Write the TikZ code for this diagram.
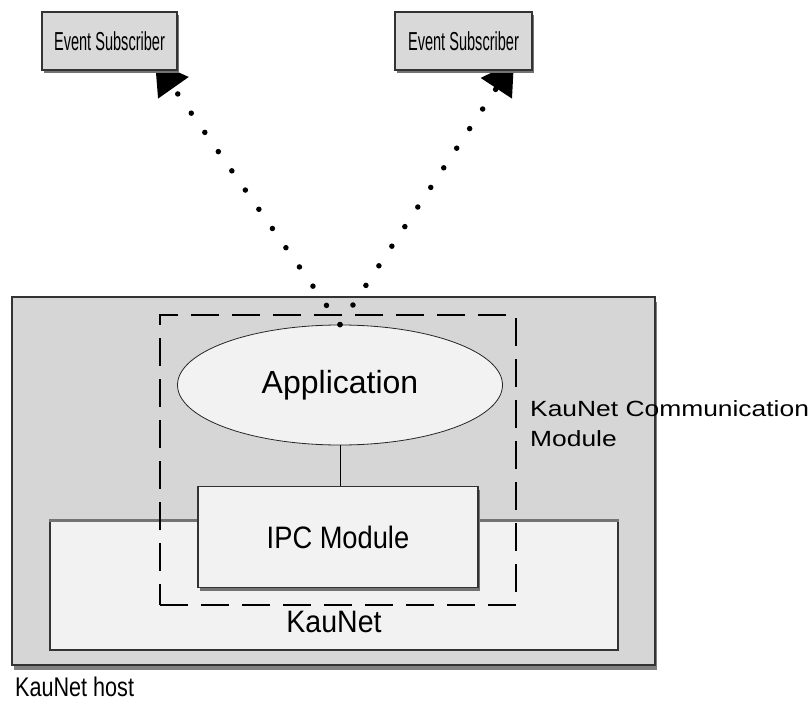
\documentclass[tikz,border=0pt]{standalone}
\usepackage{fontspec}
\setmainfont{Liberation Sans}
\usetikzlibrary{arrows.meta,shapes.geometric,shadows,calc}
\pgfdeclarelayer{front}
\pgfsetlayers{main,front}

\begin{document}
\begin{tikzpicture}[x=1pt, y=-1pt, >={Triangle[length=32pt, width=36pt]},
	box/.style={draw=black!80, line width=1.2pt, inner sep=0pt},
	shadebox/.style={box, drop shadow={shadow xshift=2pt, shadow yshift=-3pt, fill=black!55, opacity=1}},
	dotline/.style={line width=5.5pt, line cap=round, dash pattern=on 0pt off 23.5pt, black}]
	\useasboundingbox (0,0) rectangle (812,706);
	% subscribers sit on top of the arrow heads
	\begin{pgfonlayer}{front}
	\node[shadebox, fill=black!15, minimum width=135pt, minimum height=58pt, font={\fontsize{26}{30}\selectfont\addfontfeatures{FakeStretch=0.56}}] (subL) at (109.5,41) {Event Subscriber};
	\node[shadebox, fill=black!15, minimum width=137pt, minimum height=58pt, font={\fontsize{26}{30}\selectfont\addfontfeatures{FakeStretch=0.56}}] (subR) at (463.5,41) {Event Subscriber};
	\end{pgfonlayer}
	\node[box, fill=black!16, minimum width=643pt, minimum height=368pt, drop shadow={shadow xshift=2pt, shadow yshift=-5pt, fill=black!50, opacity=1}] (host) at (333.5,481) {};
	\node[anchor=north west, inner sep=0pt, font={\fontsize{27}{32}\selectfont\addfontfeatures{FakeStretch=0.8}}] (hostlbl) at (15,677) {KauNet host};
	\node[box, fill=black!5, minimum width=568pt, minimum height=129pt, label={[anchor=base, inner sep=0pt, yshift=18pt, font={\fontsize{31}{36}\selectfont\addfontfeatures{FakeStretch=0.92}}]south:KauNet}] (kaunet) at (334,585.5) {};
	\draw[black!55, line width=3pt] (kaunet.north west) -- (kaunet.north east);
	\node[shadebox, fill=black!5, minimum width=280pt, minimum height=101pt, font={\fontsize{31}{36}\selectfont\addfontfeatures{FakeStretch=0.88}}] (ipc) at (338,537) {IPC Module};
	\node[ellipse, draw=black!85, line width=0.8pt, fill=black!5, minimum width=325pt, minimum height=120pt, inner sep=0pt, font={\fontsize{32}{38}\selectfont}] (app) at (340,385) {Application};
	\draw[line width=0.8pt] (app.south) -- (app.south |- ipc.north);
	\node[draw, dash pattern=on 28pt off 13pt, line width=1.5pt, minimum width=356pt, minimum height=290pt] (comm) at (338,460) {};
	\node[anchor=north west, align=left, inner sep=0pt, font={\fontsize{22}{30}\selectfont\addfontfeatures{FakeStretch=1.2}}] (commlbl) at (530,400) {KauNet Communication\\Module};
	% event paths
	\coordinate (tipL) at ($(subL.south)+(45.5,-9)$);
	\coordinate (tipR) at ($(subR.south)+(50.5,-9)$);
	\draw[dotline, ->] (app.north) -- (tipL);
	\draw[dotline, ->] (app.north) -- (tipR);
\end{tikzpicture}
\end{document}
